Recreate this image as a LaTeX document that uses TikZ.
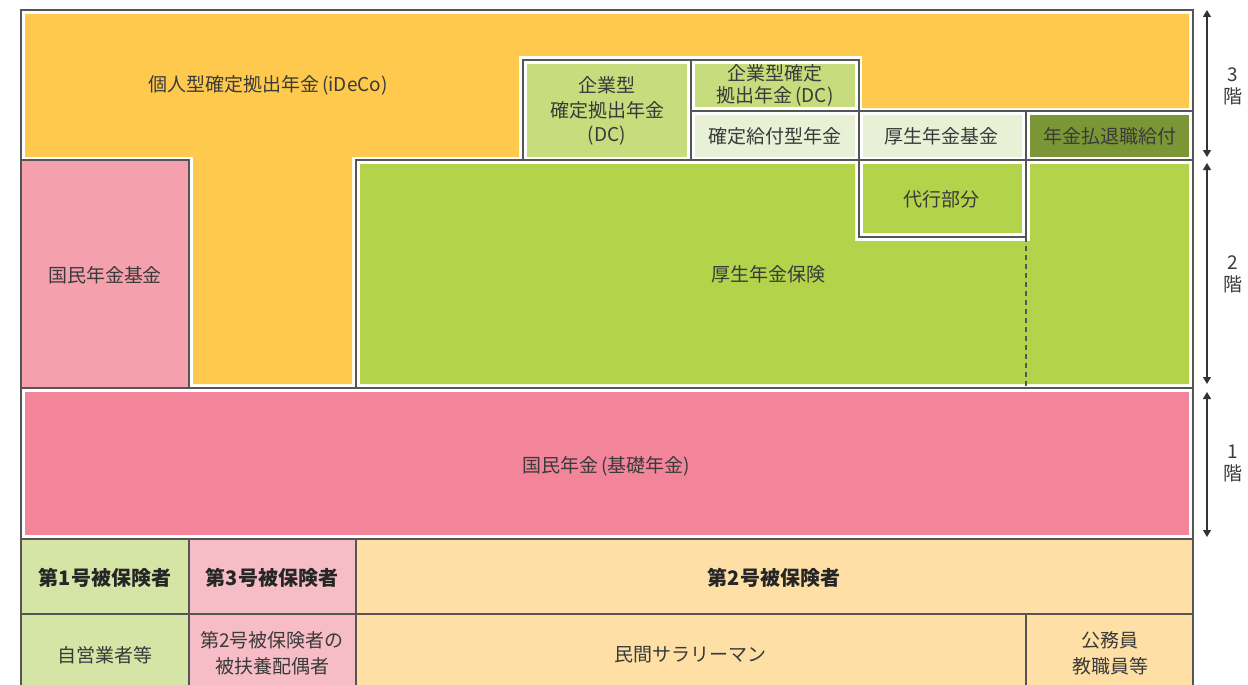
\documentclass[tikz,border=0pt]{standalone}
\usepackage{fontspec}
\newfontfamily\jp{Noto Sans CJK JP}
\usetikzlibrary{arrows.meta}
\definecolor{lineC}{HTML}{555555}
\definecolor{txtC}{HTML}{3A3A3A}
\definecolor{yel}{HTML}{FEC94C}
\definecolor{pinkA}{HTML}{F4A1AD}
\definecolor{pinkB}{HTML}{F2859A}
\definecolor{grn}{HTML}{B3D34B}
\definecolor{grnL}{HTML}{C6DC7D}
\definecolor{grnP}{HTML}{E8F0D5}
\definecolor{olive}{HTML}{7B9636}
\definecolor{botG}{HTML}{D5E5A6}
\definecolor{botP}{HTML}{F7BDC6}
\definecolor{botY}{HTML}{FEE0A6}
\tikzset{
  ln/.style={draw=lineC, line width=1.3pt},
  dashln/.style={draw=lineC, line width=1.3pt, dash pattern=on 5pt off 4pt},
  txt/.style={font=\jp\fontsize{19}{24.5}\selectfont, text=txtC, align=center, inner sep=0pt},
  boldtxt/.style={font=\jp\bfseries\fontsize{20}{24}\selectfont, text=black!85, align=center, inner sep=0pt},
  floorarr/.style={draw=black!80, line width=1.3pt, {Triangle[length=7pt,width=8pt]}-{Triangle[length=7pt,width=8pt]}}
}
\newcommand{\pgap}{\hspace{3pt}}
\begin{document}
\begin{tikzpicture}[x=1pt,y=-1pt]
\useasboundingbox (0,0) rectangle (1248,685);
% fills
\fill[yel] (25,14) -- (1189,14) -- (1189,108) -- (862,108) -- (862,56) -- (519,56) -- (519,157) -- (352,157) -- (352,384) -- (193,384) -- (193,157) -- (25,157) -- cycle;
\fill[pinkA] (21,160) rectangle (189,388);
\fill[grn] (360,164) -- (855,164) -- (855,241) -- (1030,241) -- (1030,164) -- (1189,164) -- (1189,384) -- (360,384) -- cycle;
\fill[grn] (863,164) rectangle (1022,233);
\fill[grnL] (527,64) rectangle (687,157);
\fill[grnL] (695,64) rectangle (855,107);
\fill[grnP] (695,115) rectangle (855,157);
\fill[grnP] (863,115) rectangle (1022,157);
\fill[olive] (1030,115) rectangle (1189,157);
\fill[pinkB] (25,392) rectangle (1189,535);
\fill[botG] (21,539) rectangle (189,685);
\fill[botP] (189,539) rectangle (356,685);
\fill[botY] (356,539) rectangle (1193,685);
% lines
\draw[ln] (21,685) -- (21,10) -- (1193,10) -- (1193,685);
\draw[ln] (21,160) -- (189,160) -- (189,388);
\draw[ln] (356,388) -- (356,160) -- (1193,160);
\draw[ln] (523,160) -- (523,60) -- (859,60) -- (859,237) -- (1026,237);
\draw[ln] (691,60) -- (691,160);
\draw[ln] (691,111) -- (1193,111);
\draw[ln] (1026,111) -- (1026,237);
\draw[dashln] (1026,237) -- (1026,388);
\draw[ln] (21,388) -- (1193,388);
\draw[ln] (21,539) -- (1193,539);
\draw[ln] (21,614) -- (1193,614);
\draw[ln] (189,539) -- (189,685);
\draw[ln] (356,539) -- (356,685);
\draw[ln] (1026,614) -- (1026,685);
% texts
\node[txt] (ideco) at (268,85) {個人型確定拠出年金\pgap(iDeCo)};
\node[txt] (kikin) at (105,275) {国民年金基金};
\node[txt] (kosei) at (768,274) {厚生年金保険};
\node[txt] (dcA) at (607,111) {企業型\\確定拠出年金\\(DC)};
\node[txt, font=\jp\fontsize{19}{22}\selectfont] (dcB) at (775,85) {企業型確定\\拠出年金\pgap(DC)};
\node[txt] (db) at (775,136) {確定給付型年金};
\node[txt] (kk) at (941,136) {厚生年金基金};
\node[txt] (nb) at (1110,136) {年金払退職給付};
\node[txt] (dai) at (941,199) {代行部分};
\node[txt] (kn) at (606,466) {国民年金\pgap(基礎年金)};
\node[boldtxt] (h1) at (105,578) {第1号被保険者};
\node[boldtxt] (h3) at (272,578) {第3号被保険者};
\node[boldtxt] (h2) at (774,578) {第2号被保険者};
\node[txt] (s1) at (105,655) {自営業者等};
\node[txt, font=\jp\fontsize{19}{26}\selectfont] (s3) at (272,653) {第2号被保険者の\\被扶養配偶者};
\node[txt] (s2) at (690,655) {民間サラリーマン};
\node[txt, font=\jp\fontsize{19}{26}\selectfont] (s4) at (1110,653) {公務員\\教職員等};
% floors
\coordinate (a3t) at (1207,10);
\coordinate (a3b) at (1207,157);
\coordinate (a2t) at (1207,163);
\coordinate (a2b) at (1207,384);
\coordinate (a1t) at (1207,392);
\coordinate (a1b) at (1207,537);
\draw[floorarr] (a3t) -- (a3b);
\draw[floorarr] (a2t) -- (a2b);
\draw[floorarr] (a1t) -- (a1b);
\node[txt, font=\jp\fontsize{19}{22}\selectfont] (f3) at (1233,86) {3\\階};
\node[txt, font=\jp\fontsize{19}{22}\selectfont] (f2) at (1233,274) {2\\階};
\node[txt, font=\jp\fontsize{19}{22}\selectfont] (f1) at (1233,463) {1\\階};
\end{tikzpicture}
\end{document}
